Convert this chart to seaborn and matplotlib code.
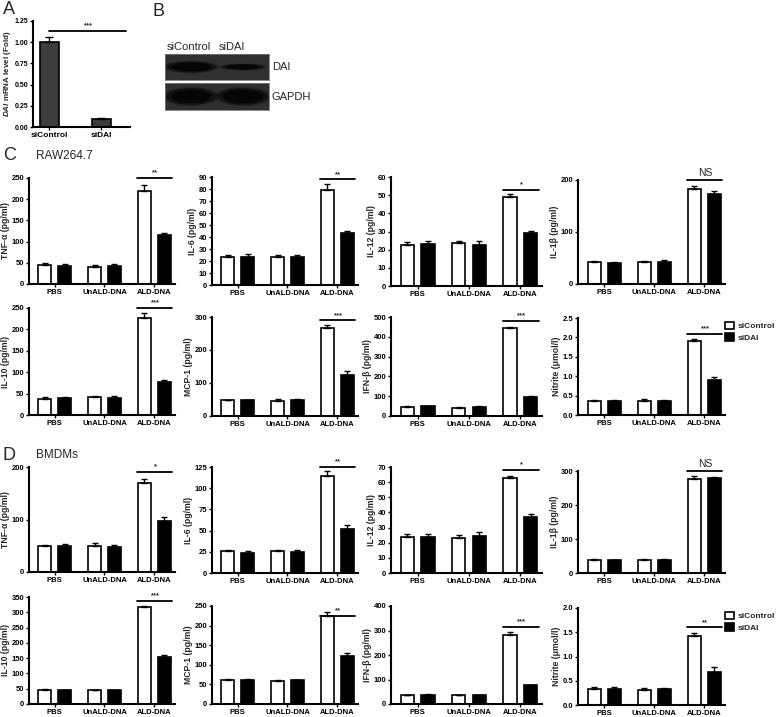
import numpy as np
import pandas as pd
import matplotlib
matplotlib.use("Agg")
import matplotlib.pyplot as plt
import seaborn as sns
from matplotlib.patches import Ellipse, Rectangle

sns.set_theme(style="ticks")
plt.rcParams["font.family"] = ["Liberation Sans", "DejaVu Sans"]
plt.rcParams["font.weight"] = "bold"
plt.rcParams["axes.labelweight"] = "bold"
plt.rcParams["mathtext.fontset"] = "custom"
plt.rcParams["mathtext.it"] = "Liberation Sans:italic:bold"
plt.rcParams["mathtext.rm"] = "Liberation Sans:bold"

W, H = 778, 717

groups = ["PBS", "UnALD-DNA", "ALD-DNA"]
treat = ["siControl", "siDAI"]

# panel A: qPCR
a_labels = ["siControl", "siDAI"]
a_mean = [1.00, 0.10]
a_err = [0.06, 0.01]

# panel B: relative band strength, lanes siControl / siDAI
blot_rows = ["DAI", "GAPDH"]
dai_band = [1.0, 0.55]
gapdh_band = [1.0, 1.0]

# panel C: RAW264.7  [siControl, siDAI] per group
raw_tnf = [[45, 41, 220], [43, 43, 116]]
raw_tnf_err = [[4, 4, 14], [3, 3, 5]]
raw_il6 = [[23, 23, 79], [23, 23.5, 43]]
raw_il6_err = [[2, 2, 5.5], [2.5, 1.5, 2]]
raw_il12 = [[22.5, 23.5, 49], [23, 22.5, 29]]
raw_il12_err = [[1.8, 1, 1.7], [2, 2.2, 1.2]]
raw_il1b = [[42, 42, 183], [40, 43, 174]]
raw_il1b_err = [[3, 3, 6], [3, 3, 5]]
raw_il10 = [[38, 41, 227], [40, 39, 77]]
raw_il10_err = [[4, 4, 12], [3, 5, 5]]
raw_mcp1 = [[48, 46, 268], [47, 48, 125]]
raw_mcp1_err = [[1, 4, 9], [1, 2, 10]]
raw_ifnb = [[45, 42, 445], [48, 46, 95]]
raw_ifnb_err = [[3, 3, 4], [2, 2, 5]]
raw_no = [[0.35, 0.36, 1.90], [0.35, 0.35, 0.91]]
raw_no_err = [[0.04, 0.04, 0.05], [0.04, 0.03, 0.06]]

# panel D: BMDMs
bm_tnf = [[50, 50, 170], [50, 48, 98]]
bm_tnf_err = [[2, 5, 8], [4, 3, 6]]
bm_il6 = [[26, 26.5, 114], [24, 25, 52]]
bm_il6_err = [[1.5, 1, 6], [2, 2, 5]]
bm_il12 = [[24, 23, 63], [23.5, 24.5, 37]]
bm_il12_err = [[1.5, 2, 1], [2, 2.5, 2]]
bm_il1b = [[38, 37, 277], [37, 38, 279]]
bm_il1b_err = [[3, 3, 7], [2, 2, 4]]
bm_il10 = [[45, 45, 316], [45, 45, 155]]
bm_il10_err = [[3, 2, 6], [2, 2, 6]]
bm_mcp1 = [[62, 58, 224], [60, 60, 123]]
bm_mcp1_err = [[3, 2, 10], [3, 2, 8]]
bm_ifnb = [[35, 35, 282], [38, 35, 76]]
bm_ifnb_err = [[2, 2, 12], [2, 2, 3]]
bm_no = [[0.33, 0.31, 1.42], [0.34, 0.34, 0.68]]
bm_no_err = [[0.04, 0.05, 0.07], [0.03, 0.02, 0.10]]

pal = {"siControl": "white", "siDAI": "black"}


def rect(x0, y0, x1, y1):
    return [x0 / W, 1 - y1 / H, (x1 - x0) / W, (y1 - y0) / H]


def style_ax(ax):
    sns.despine(ax=ax)
    for s in ["left", "bottom"]:
        ax.spines[s].set_linewidth(1.5)
        ax.spines[s].set_color("black")
    ax.tick_params(labelsize=5.5, width=1, length=2.5, pad=1, colors="black")
    ax.set_xlabel("")


def bar_panel(ax, vals, errs, ylabel, ymax, step, sig_y, sig, fmt="{:.0f}"):
    df = pd.DataFrame({"group": groups * 2,
                       "treat": [treat[0]] * 3 + [treat[1]] * 3,
                       "value": vals[0] + vals[1]})
    sns.barplot(data=df, x="group", y="value", hue="treat", order=groups,
                hue_order=treat, palette=pal, edgecolor="black", linewidth=1.2,
                width=0.8, gap=0.35, errorbar=None, legend=False, ax=ax)
    bars = sorted(ax.patches, key=lambda p: p.get_x())
    err_list = [e for pair in zip(errs[0], errs[1]) for e in pair]
    for p, e in zip(bars, err_list):
        x = p.get_x() + p.get_width() / 2
        ax.errorbar(x, p.get_height(), yerr=[[0], [e]], color="black",
                    capsize=2.5, lw=1, capthick=1)
    ax.set_xlim(-0.52, 2.42)
    ax.set_ylim(0, ymax)
    ticks = np.arange(0, ymax + step / 2, step)
    ax.set_yticks(ticks)
    ax.set_yticklabels([fmt.format(t) for t in ticks])
    ax.set_ylabel(ylabel, fontsize=6.2, labelpad=1)
    ax.plot([2 - 0.34, 2 + 0.36], [sig_y, sig_y], color="black", lw=1.3,
            clip_on=False)
    fs = 7.5 if sig == "NS" else 5.5
    ax.text(2.02, sig_y + ymax * 0.015, sig, ha="center", va="bottom",
            fontsize=fs, fontweight="normal" if sig == "NS" else "bold")
    style_ax(ax)


fig = plt.figure(figsize=(W / 100, H / 100), dpi=100)

# ---- panel A
axA = fig.add_axes(rect(33, 21, 130, 127))
sns.barplot(x=a_labels, y=a_mean, color="#3c3c3c", edgecolor="black",
            linewidth=1.2, width=0.36, errorbar=None, ax=axA)
for p, e in zip(sorted(axA.patches, key=lambda p: p.get_x()), a_err):
    axA.errorbar(p.get_x() + p.get_width() / 2, p.get_height(), yerr=[[0], [e]],
                 color="black", capsize=3, lw=1, capthick=1)
axA.set_xlim(-0.31, 1.55)
axA.set_ylim(0, 1.25)
axA.set_yticks(np.arange(0, 1.26, 0.25))
axA.set_yticklabels(["{:.2f}".format(t) for t in np.arange(0, 1.26, 0.25)])
axA.plot([0, 1.48], [1.13, 1.13], color="black", lw=1.3, clip_on=False)
axA.text(0.75, 1.15, "***", ha="center", va="bottom", fontsize=5.5)
style_ax(axA)
axA.tick_params(axis="x", labelsize=6)
axA.tick_params(axis="y", labelsize=5)
axA.set_ylabel(r"$\it{DAI}$ mRNA level (Fold)", fontsize=5.8, labelpad=1)

# ---- panel B
lanes = [0.5, 1.5]
band_h = {"DAI": 0.42, "GAPDH": 0.62}
for (y0, y1), name, band in zip([(54, 80), (83, 110)], blot_rows,
                                [dai_band, gapdh_band]):
    axb = fig.add_axes(rect(165, y0, 269, y1))
    axb.set_xlim(0, 2)
    axb.set_ylim(0, 1)
    axb.set_facecolor("#303030")
    for x, s in zip(lanes, band):
        for k, a in zip([1.15, 1.0, 0.8], [0.3, 0.6, 1.0]):
            axb.add_patch(Ellipse((x, 0.5), (0.6 + 0.35 * s) * k,
                                  band_h[name] * s * k, color="#050505",
                                  alpha=a, lw=0))
    axb.set_xticks([])
    axb.set_yticks([])
    for sp in axb.spines.values():
        sp.set_color("#777777")
        sp.set_linewidth(0.6)
    fig.text(272 / W, 1 - ((y0 + y1) / 2) / H, name, fontsize=8,
             fontweight="normal", va="center", ha="left")
fig.text(167 / W, 1 - 47 / H, "siControl", fontsize=8, fontweight="normal",
         va="center", ha="left")
fig.text(219 / W, 1 - 47 / H, "siDAI", fontsize=8, fontweight="normal",
         va="center", ha="left")

# ---- panel letters
for txt, x, y in [("A", 3, 10), ("B", 153, 11), ("C", 3, 156), ("D", 3, 455)]:
    fig.text(x / W, 1 - y / H, txt, fontsize=13, fontweight="normal",
             va="center", ha="left")
fig.text(36 / W, 1 - 156 / H, "RAW264.7", fontsize=8.5, fontweight="normal",
         va="center", ha="left")
fig.text(36 / W, 1 - 455 / H, "BMDMs", fontsize=8.5, fontweight="normal",
         va="center", ha="left")

cols = [(29, 175), (212, 358), (391, 542), (578, 725)]
mu = "\u03bc"
panels = [
    # C row 1
    (raw_tnf, raw_tnf_err, "TNF-\u03b1 (pg/ml)", 250, 50, 250, "**", "{:.0f}", 0, 178, 284),
    (raw_il6, raw_il6_err, "IL-6 (pg/ml)", 90, 10, 88, "**", "{:.0f}", 1, 177, 285),
    (raw_il12, raw_il12_err, "IL-12 (pg/ml)", 60, 10, 53, "*", "{:.0f}", 2, 177, 286),
    (raw_il1b, raw_il1b_err, "IL-1\u03b2 (pg/ml)", 200, 100, 200, "NS", "{:.0f}", 3, 180, 284),
    # C row 2
    (raw_il10, raw_il10_err, "IL-10 (pg/ml)", 250, 50, 250, "***", "{:.0f}", 0, 308, 415),
    (raw_mcp1, raw_mcp1_err, "MCP-1 (pg/ml)", 300, 100, 290, "***", "{:.0f}", 1, 317, 416),
    (raw_ifnb, raw_ifnb_err, "IFN-\u03b2 (pg/ml)", 500, 100, 480, "***", "{:.0f}", 2, 317, 416),
    (raw_no, raw_no_err, "Nitrite (" + mu + "mol/l)", 2.5, 0.5, 2.1, "***", "{:.1f}", 3, 318, 415),
    # D row 1
    (bm_tnf, bm_tnf_err, "TNF-\u03b1 (pg/ml)", 200, 100, 190, "*", "{:.0f}", 0, 467, 572),
    (bm_il6, bm_il6_err, "IL-6 (pg/ml)", 125, 25, 125, "**", "{:.0f}", 1, 467, 573),
    (bm_il12, bm_il12_err, "IL-12 (pg/ml)", 70, 10, 68, "*", "{:.0f}", 2, 467, 573),
    (bm_il1b, bm_il1b_err, "IL-1\u03b2 (pg/ml)", 300, 100, 300, "NS", "{:.0f}", 3, 471, 573),
    # D row 2
    (bm_il10, bm_il10_err, "IL-10 (pg/ml)", 350, 50, 337, "***", "{:.0f}", 0, 597, 704),
    (bm_mcp1, bm_mcp1_err, "MCP-1 (pg/ml)", 250, 50, 224, "**", "{:.0f}", 1, 606, 704),
    (bm_ifnb, bm_ifnb_err, "IFN-\u03b2 (pg/ml)", 400, 100, 314, "***", "{:.0f}", 2, 606, 704),
    (bm_no, bm_no_err, "Nitrite (" + mu + "mol/l)", 2.0, 0.5, 1.6, "**", "{:.1f}", 3, 608, 705),
]

for vals, errs, lab, ymax, step, sig_y, sig, fmt, c, top, bot in panels:
    x0, x1 = cols[c]
    ax = fig.add_axes(rect(x0, top, x1, bot))
    bar_panel(ax, vals, errs, lab, ymax, step, sig_y, sig, fmt)

handles = [Rectangle((0, 0), 1, 1, fc=pal[t], ec="black", lw=1.2) for t in treat]
for ytop in [316, 606]:
    fig.legend(handles, treat, loc="upper left",
               bbox_to_anchor=(719 / W, 1 - ytop / H), frameon=False,
               fontsize=6, handlelength=1.1, handleheight=1.0,
               handletextpad=0.5, labelspacing=0.35, borderpad=0.2)

fig.savefig("out.png", dpi=100)
